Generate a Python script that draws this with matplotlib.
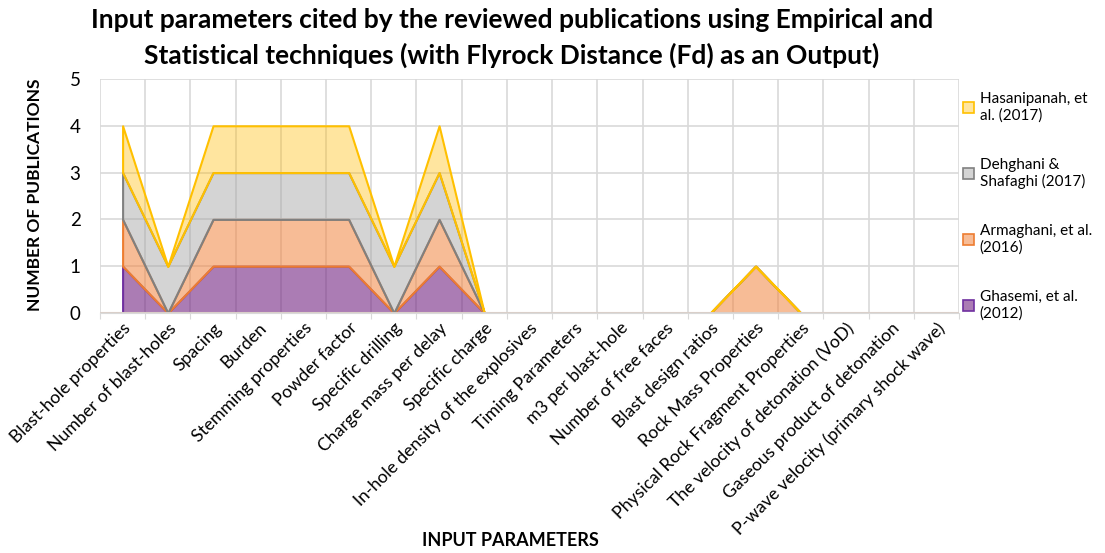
import matplotlib
matplotlib.use("Agg")
import matplotlib.pyplot as plt
from matplotlib.patches import Patch
from matplotlib.transforms import ScaledTranslation
import numpy as np

categories = [
    "Blast-hole properties", "Number of blast-holes", "Spacing", "Burden",
    "Stemming properties", "Powder factor", "Specific drilling",
    "Charge mass per delay", "Specific charge",
    "In-hole density of the explosives", "Timing Parameters",
    "m3 per blast-hole", "Number of free faces", "Blast design ratios",
    "Rock Mass Properties", "Physical Rock Fragment Properties",
    "The velocity of detonation (VoD)", "Gaseous product of detonation",
    "P-wave velocity (primary shock wave)",
]
ghasemi_2012 = [1, 0, 1, 1, 1, 1, 0, 1, 0, 0, 0, 0, 0, 0, 0, 0, 0, 0, 0]
armaghani_2016 = [1, 0, 1, 1, 1, 1, 0, 1, 0, 0, 0, 0, 0, 0, 1, 0, 0, 0, 0]
dehghani_2017 = [1, 1, 1, 1, 1, 1, 1, 1, 0, 0, 0, 0, 0, 0, 0, 0, 0, 0, 0]
hasanipanah_2017 = [1, 0, 1, 1, 1, 1, 0, 1, 0, 0, 0, 0, 0, 0, 0, 0, 0, 0, 0]

series_names = ["Ghasemi, et al.\n(2012)", "Armaghani, et al.\n(2016)",
                "Dehghani &\nShafaghi (2017)", "Hasanipanah, et\nal. (2017)"]
series_values = [ghasemi_2012, armaghani_2016, dehghani_2017, hasanipanah_2017]
face_colors = [(115/255, 37/255, 130/255, 0.6), (242/255, 133/255, 64/255, 0.55),
               (0.647, 0.647, 0.647, 0.48), (1.0, 190/255, 17/255, 0.4)]
edge_colors = ["#7030A0", "#ED7D31", "#808080", "#FFC000"]

plt.rcParams['font.family'] = ['Lato', 'DejaVu Sans']

fig = plt.figure(figsize=(11.05, 5.53), dpi=100)
ax = fig.add_axes([100/1105, 1-313/553, 859/1105, 234/553])

x = np.arange(len(categories))
base = np.zeros(len(categories))
handles = []
for name, vals, fc, ec in zip(series_names, series_values, face_colors, edge_colors):
    top = base + np.array(vals)
    ax.fill_between(x, base, top, facecolor=fc, edgecolor=ec, linewidth=1.5, zorder=2)
    handles.append(Patch(facecolor=fc, edgecolor=ec, linewidth=1.2))
    base = top

ax.plot([-0.5, 18.5], [0, 0], color="#D9CFC9", lw=1.5, zorder=3)

ax.set_xlim(-0.5, 18.5)
ax.set_ylim(0, 5)
ax.set_yticks(range(6))
ax.set_xticks(np.arange(-0.5, 19, 1), minor=False)
ax.set_xticklabels([])
ax.set_xticks(x, minor=True)
ax.set_xticklabels(categories, minor=True, rotation=45, ha='right',
                   rotation_mode='anchor', fontsize=12.7)
shift = ScaledTranslation(-9/100, 0, fig.dpi_scale_trans)
for lbl in ax.get_xticklabels(minor=True):
    lbl.set_transform(lbl.get_transform() + shift)
ax.tick_params(axis='x', which='minor', length=0, pad=5)
ax.tick_params(axis='x', which='major', length=4, color="#D9D9D9")
ax.tick_params(axis='y', length=0, labelsize=13.5, pad=14)
ax.grid(True, which='major', color="#D9D9D9", lw=1.2, zorder=0)
ax.set_axisbelow(True)
for s in ['top', 'right', 'left']:
    ax.spines[s].set_visible(False)
ax.spines['bottom'].set_color("#D9D9D9")

fig.text(512/1105, 1-20/553, "Input parameters cited by the reviewed publications using Empirical and",
         ha='center', va='center', fontsize=19, fontweight='bold')
fig.text(512/1105, 1-55/553, "Statistical techniques (with Flyrock Distance (Fd) as an Output)",
         ha='center', va='center', fontsize=19, fontweight='bold')
fig.text(35/1105, 1-195/553, "NUMBER OF PUBLICATIONS", rotation=90, ha='center',
         va='center', fontsize=12.5, fontweight='bold')
fig.text(510/1105, 1-541/553, "INPUT PARAMETERS", ha='center', va='center',
         fontsize=13, fontweight='bold')

fig.legend(handles[::-1], series_names[::-1], loc='upper left',
           bbox_to_anchor=(963/1105, 1-92/553), frameon=False, fontsize=11,
           labelspacing=2.3, handlelength=0.75, handleheight=0.75,
           handletextpad=0.35, borderpad=0, borderaxespad=0)

fig.savefig("out.png", dpi=100)
